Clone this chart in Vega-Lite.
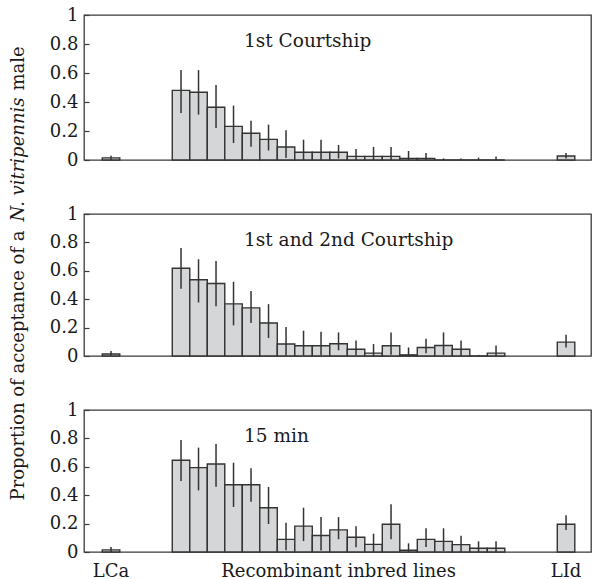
{
  "$schema": "https://vega.github.io/schema/vega-lite/v6.json",
  "background": "white",
  "padding": {"left": 8, "top": 5, "right": 5, "bottom": 5},
  "bounds": "flush",
  "spacing": 54,
  "config": {
    "font": "DejaVu Serif",
    "view": {"stroke": "#3a3a3a", "strokeWidth": 1.3},
    "axis": {"grid": false, "domain": false, "labelFont": "DejaVu Serif", "titleFont": "DejaVu Serif", "labelFontSize": 18, "titleFontSize": 18, "titleFontWeight": "normal", "labelColor": "#1a1a1a", "titleColor": "#1a1a1a", "tickColor": "#3a3a3a", "tickWidth": 1.2, "labelLimit": 0},
    "axisY": {"labelOverlap": false, "labelFlush": false, "labelBound": false, "tickCount": 12, "tickSize": -5, "labelPadding": 11, "titlePadding": 22}
  },
  "datasets": {
    "acc": [
      {"panel": "c1", "line": "LCa", "p": 0.015, "lo": 0, "hi": 0.03},
      {"panel": "c1", "line": "RIL1", "p": 0.48, "lo": 0.325, "hi": 0.62},
      {"panel": "c1", "line": "RIL2", "p": 0.467, "lo": 0.313, "hi": 0.62},
      {"panel": "c1", "line": "RIL3", "p": 0.364, "lo": 0.221, "hi": 0.518},
      {"panel": "c1", "line": "RIL4", "p": 0.232, "lo": 0.117, "hi": 0.375},
      {"panel": "c1", "line": "RIL5", "p": 0.184, "lo": 0.092, "hi": 0.27},
      {"panel": "c1", "line": "RIL6", "p": 0.142, "lo": 0.066, "hi": 0.244},
      {"panel": "c1", "line": "RIL7", "p": 0.09, "lo": 0.014, "hi": 0.205},
      {"panel": "c1", "line": "RIL8", "p": 0.053, "lo": 0, "hi": 0.14},
      {"panel": "c1", "line": "RIL9", "p": 0.053, "lo": 0, "hi": 0.14},
      {"panel": "c1", "line": "RIL10", "p": 0.053, "lo": 0.011, "hi": 0.104},
      {"panel": "c1", "line": "RIL11", "p": 0.025, "lo": 0, "hi": 0.076},
      {"panel": "c1", "line": "RIL12", "p": 0.025, "lo": 0, "hi": 0.09},
      {"panel": "c1", "line": "RIL13", "p": 0.025, "lo": 0, "hi": 0.09},
      {"panel": "c1", "line": "RIL14", "p": 0.011, "lo": 0, "hi": 0.062},
      {"panel": "c1", "line": "RIL15", "p": 0.011, "lo": 0, "hi": 0.048},
      {"panel": "c1", "line": "RIL16", "p": 0, "lo": 0, "hi": 0.011},
      {"panel": "c1", "line": "RIL17", "p": 0, "lo": 0, "hi": 0.011},
      {"panel": "c1", "line": "RIL18", "p": 0, "lo": 0, "hi": 0.016},
      {"panel": "c1", "line": "RIL19", "p": 0, "lo": 0, "hi": 0.025},
      {"panel": "c1", "line": "LId", "p": 0.028, "lo": 0.011, "hi": 0.048},

      {"panel": "c12", "line": "LCa", "p": 0.014, "lo": 0, "hi": 0.035},
      {"panel": "c12", "line": "RIL1", "p": 0.618, "lo": 0.473, "hi": 0.76},
      {"panel": "c12", "line": "RIL2", "p": 0.537, "lo": 0.377, "hi": 0.681},
      {"panel": "c12", "line": "RIL3", "p": 0.511, "lo": 0.351, "hi": 0.669},
      {"panel": "c12", "line": "RIL4", "p": 0.367, "lo": 0.216, "hi": 0.523},
      {"panel": "c12", "line": "RIL5", "p": 0.339, "lo": 0.232, "hi": 0.457},
      {"panel": "c12", "line": "RIL6", "p": 0.232, "lo": 0.126, "hi": 0.365},
      {"panel": "c12", "line": "RIL7", "p": 0.084, "lo": 0.004, "hi": 0.204},
      {"panel": "c12", "line": "RIL8", "p": 0.072, "lo": 0.004, "hi": 0.178},
      {"panel": "c12", "line": "RIL9", "p": 0.072, "lo": 0.006, "hi": 0.17},
      {"panel": "c12", "line": "RIL10", "p": 0.086, "lo": 0.04, "hi": 0.166},
      {"panel": "c12", "line": "RIL11", "p": 0.048, "lo": 0.006, "hi": 0.11},
      {"panel": "c12", "line": "RIL12", "p": 0.02, "lo": 0, "hi": 0.084},
      {"panel": "c12", "line": "RIL13", "p": 0.072, "lo": 0.008, "hi": 0.166},
      {"panel": "c12", "line": "RIL14", "p": 0.008, "lo": 0, "hi": 0.06},
      {"panel": "c12", "line": "RIL15", "p": 0.06, "lo": 0.02, "hi": 0.122},
      {"panel": "c12", "line": "RIL16", "p": 0.074, "lo": 0.008, "hi": 0.166},
      {"panel": "c12", "line": "RIL17", "p": 0.048, "lo": 0, "hi": 0.11},
      {"panel": "c12", "line": "RIL18", "p": 0, "lo": 0, "hi": 0.008},
      {"panel": "c12", "line": "RIL19", "p": 0.02, "lo": 0, "hi": 0.074},
      {"panel": "c12", "line": "LId", "p": 0.098, "lo": 0.06, "hi": 0.15},

      {"panel": "m15", "line": "LCa", "p": 0.015, "lo": 0, "hi": 0.035},
      {"panel": "m15", "line": "RIL1", "p": 0.646, "lo": 0.5, "hi": 0.789},
      {"panel": "m15", "line": "RIL2", "p": 0.594, "lo": 0.434, "hi": 0.735},
      {"panel": "m15", "line": "RIL3", "p": 0.62, "lo": 0.46, "hi": 0.76},
      {"panel": "m15", "line": "RIL4", "p": 0.474, "lo": 0.317, "hi": 0.629},
      {"panel": "m15", "line": "RIL5", "p": 0.474, "lo": 0.354, "hi": 0.589},
      {"panel": "m15", "line": "RIL6", "p": 0.312, "lo": 0.197, "hi": 0.458},
      {"panel": "m15", "line": "RIL7", "p": 0.089, "lo": 0.012, "hi": 0.206},
      {"panel": "m15", "line": "RIL8", "p": 0.182, "lo": 0.077, "hi": 0.312},
      {"panel": "m15", "line": "RIL9", "p": 0.116, "lo": 0.01, "hi": 0.246},
      {"panel": "m15", "line": "RIL10", "p": 0.156, "lo": 0.09, "hi": 0.246},
      {"panel": "m15", "line": "RIL11", "p": 0.104, "lo": 0.033, "hi": 0.182},
      {"panel": "m15", "line": "RIL12", "p": 0.054, "lo": 0, "hi": 0.129},
      {"panel": "m15", "line": "RIL13", "p": 0.195, "lo": 0.089, "hi": 0.336},
      {"panel": "m15", "line": "RIL14", "p": 0.012, "lo": 0, "hi": 0.061},
      {"panel": "m15", "line": "RIL15", "p": 0.089, "lo": 0.035, "hi": 0.167},
      {"panel": "m15", "line": "RIL16", "p": 0.075, "lo": 0.007, "hi": 0.167},
      {"panel": "m15", "line": "RIL17", "p": 0.052, "lo": 0, "hi": 0.115},
      {"panel": "m15", "line": "RIL18", "p": 0.026, "lo": 0, "hi": 0.075},
      {"panel": "m15", "line": "RIL19", "p": 0.026, "lo": 0, "hi": 0.075},
      {"panel": "m15", "line": "LId", "p": 0.195, "lo": 0.155, "hi": 0.258}
    ]
  },
  "vconcat": [
    {
      "width": 507, "height": 145,
      "data": {"name": "acc"},
      "transform": [{"filter": "datum.panel == 'c1'"}],
      "encoding": {
        "x": {"field": "line", "type": "nominal", "axis": null,
          "scale": {"domain": ["LCa","g1","g2","g3","RIL1","RIL2","RIL3","RIL4","RIL5","RIL6","RIL7","RIL8","RIL9","RIL10","RIL11","RIL12","RIL13","RIL14","RIL15","RIL16","RIL17","RIL18","RIL19","g4","g5","g6","LId"], "paddingInner": 0, "paddingOuter": 0.985, "align": 0.53}}
      },
      "layer": [
        {"mark": {"type": "bar", "fill": "#d4d6d7", "stroke": "#333333", "strokeWidth": 1.4},
         "encoding": {"y": {"field": "p", "type": "quantitative", "scale": {"domain": [0, 1], "nice": false},
           "axis": {"values": [0, 0.2, 0.4, 0.6, 0.8, 1], "tickCount": 12, "labelOverlap": false, "labelExpr": "format(datum.value, '~g')", "title": "male", "titleY": 53}}}},
        {"mark": {"type": "rule", "color": "#333333", "strokeWidth": 1.5},
         "encoding": {"y": {"field": "lo", "type": "quantitative"}, "y2": {"field": "hi"}}},
        {"data": {"values": [{"label": "1st Courtship"}]},
         "mark": {"type": "text", "align": "left", "baseline": "alphabetic", "fontSize": 18.5, "font": "DejaVu Serif", "color": "#1a1a1a"},
         "encoding": {"x": {"datum": "RIL5", "bandPosition": 0.1}, "y": {"datum": 0.778}, "text": {"field": "label"}}}
      ]
    },
    {
      "width": 507, "height": 142,
      "data": {"name": "acc"},
      "transform": [{"filter": "datum.panel == 'c12'"}],
      "encoding": {
        "x": {"field": "line", "type": "nominal", "axis": null,
          "scale": {"domain": ["LCa","g1","g2","g3","RIL1","RIL2","RIL3","RIL4","RIL5","RIL6","RIL7","RIL8","RIL9","RIL10","RIL11","RIL12","RIL13","RIL14","RIL15","RIL16","RIL17","RIL18","RIL19","g4","g5","g6","LId"], "paddingInner": 0, "paddingOuter": 0.985, "align": 0.53}}
      },
      "layer": [
        {"mark": {"type": "bar", "fill": "#d4d6d7", "stroke": "#333333", "strokeWidth": 1.4},
         "encoding": {"y": {"field": "p", "type": "quantitative", "scale": {"domain": [0, 1], "nice": false},
           "axis": {"values": [0, 0.2, 0.4, 0.6, 0.8, 1], "tickCount": 12, "labelOverlap": false, "labelExpr": "format(datum.value, '~g')", "title": "N. vitripennis", "titleFontStyle": "italic", "titleY": -55}}}},
        {"mark": {"type": "rule", "color": "#333333", "strokeWidth": 1.5},
         "encoding": {"y": {"field": "lo", "type": "quantitative"}, "y2": {"field": "hi"}}},
        {"data": {"values": [{"label": "1st and 2nd Courtship"}]},
         "mark": {"type": "text", "align": "left", "baseline": "alphabetic", "fontSize": 18.5, "font": "DejaVu Serif", "color": "#1a1a1a"},
         "encoding": {"x": {"datum": "RIL5", "bandPosition": 0.1}, "y": {"datum": 0.778}, "text": {"field": "label"}}}
      ]
    },
    {
      "width": 507, "height": 142,
      "data": {"name": "acc"},
      "transform": [{"filter": "datum.panel == 'm15'"}],
      "encoding": {
        "x": {"field": "line", "type": "nominal",
          "axis": {"title": null, "ticks": false, "domain": false, "labelAngle": 0, "labelPadding": 10, "labelBound": false,
            "labelExpr": "datum.value == 'RIL10' ? 'Recombinant inbred lines' : ((datum.value == 'LCa' || datum.value == 'LId') ? datum.value : '')"},
          "scale": {"domain": ["LCa","g1","g2","g3","RIL1","RIL2","RIL3","RIL4","RIL5","RIL6","RIL7","RIL8","RIL9","RIL10","RIL11","RIL12","RIL13","RIL14","RIL15","RIL16","RIL17","RIL18","RIL19","g4","g5","g6","LId"], "paddingInner": 0, "paddingOuter": 0.985, "align": 0.53}}
      },
      "layer": [
        {"mark": {"type": "bar", "fill": "#d4d6d7", "stroke": "#333333", "strokeWidth": 1.4},
         "encoding": {"y": {"field": "p", "type": "quantitative", "scale": {"domain": [0, 1], "nice": false},
           "axis": {"values": [0, 0.2, 0.4, 0.6, 0.8, 1], "tickCount": 12, "labelOverlap": false, "labelExpr": "format(datum.value, '~g')", "title": "Proportion of acceptance of a", "titleY": -45}}}},
        {"mark": {"type": "rule", "color": "#333333", "strokeWidth": 1.5},
         "encoding": {"y": {"field": "lo", "type": "quantitative"}, "y2": {"field": "hi"}}},
        {"data": {"values": [{"label": "15 min"}]},
         "mark": {"type": "text", "align": "left", "baseline": "alphabetic", "fontSize": 18.5, "font": "DejaVu Serif", "color": "#1a1a1a"},
         "encoding": {"x": {"datum": "RIL5", "bandPosition": 0.1}, "y": {"datum": 0.778}, "text": {"field": "label"}}}
      ]
    }
  ]
}
